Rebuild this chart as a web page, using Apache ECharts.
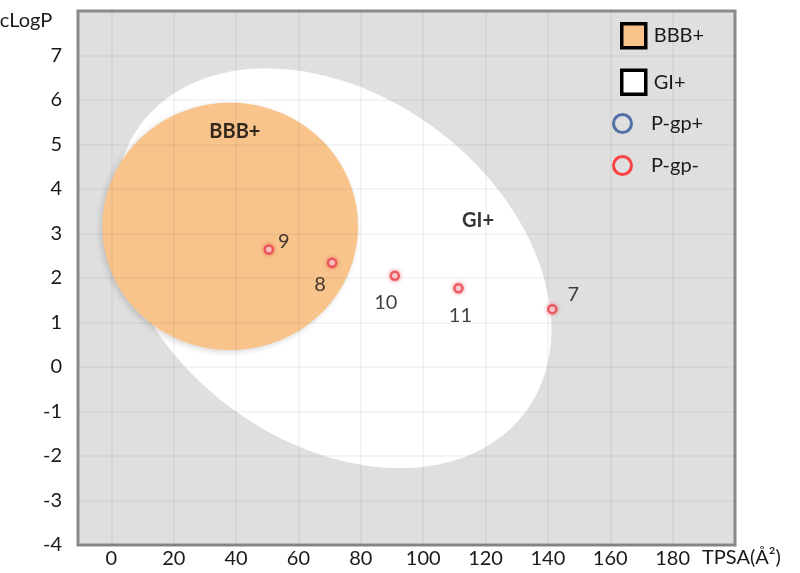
<!DOCTYPE html>
<html>
<head>
<meta charset="utf-8">
<title>BOILED-Egg</title>
<script src="https://cdn.jsdelivr.net/npm/echarts@6/dist/echarts.min.js"></script>
<style>
  html, body { margin: 0; padding: 0; background: #fff; }
  #chart { width: 800px; height: 573px; }
</style>
</head>
<body>
<div id="chart"></div>
<script>
// compounds (TPSA, cLogP)
var compoundIds = ['7', '8', '9', '10', '11'];
var tpsa = [141.4, 70.8, 50.5, 90.9, 111.3];
var clogp = [1.30, 2.34, 2.64, 2.05, 1.77];
var pgpPositive = []; // no P-gp substrates

// axis ticks
var xTicks = [0, 20, 40, 60, 80, 100, 120, 140, 160, 180];
var yTicks = [-4, -3, -2, -1, 0, 1, 2, 3, 4, 5, 6, 7];

// egg regions: centre and two conjugate semi-axes, in data units
var giCentre = [71.1, 2.22];
var giAxisA = [61.5, -3.25];
var giAxisB = [-33.5, -3.10];
var bbbCentre = [38.1, 3.16];
var bbbAxisA = [41.0, 0];
var bbbAxisB = [0, 2.78];

// region captions
var regionNames = ['BBB+', 'GI+'];
var regionX = [39.6, 117.6];
var regionY = [5.30, 3.30];

var FONT = 'Lato, "Open Sans", sans-serif';

// label offsets (px) for each compound number
var labelShift = { '7': [21, -15], '8': [-12, 22], '9': [15, -8], '10': [-9, 27], '11': [2, 27] };

function ellipseRender(centre, a, b, style) {
    return function (params, api) {
        var pts = [];
        for (var k = 0; k < 120; k++) {
            var t = 2 * Math.PI * k / 120;
            pts.push(api.coord([
                centre[0] + a[0] * Math.cos(t) + b[0] * Math.sin(t),
                centre[1] + a[1] * Math.cos(t) + b[1] * Math.sin(t)
            ]));
        }
        return { type: 'polygon', shape: { points: pts }, style: style };
    };
}

var pointData = [];
for (var i = 0; i < compoundIds.length; i++) {
    pointData.push({
        value: [tpsa[i], clogp[i]],
        name: compoundIds[i],
        label: { offset: labelShift[compoundIds[i]] }
    });
}

var captionData = [];
for (var j = 0; j < regionNames.length; j++) {
    captionData.push({ value: [regionX[j], regionY[j]], name: regionNames[j] });
}

var chart = echarts.init(document.getElementById('chart'));
var option = {
    animation: false,
    backgroundColor: '#fff',
    textStyle: { fontFamily: FONT },
    grid: {
        left: 78, right: 65, top: 11, bottom: 28,
        show: true,
        backgroundColor: '#dfdfdf',
        borderColor: '#8a8a8a',
        borderWidth: 3,
        outerBoundsMode: 'none'
    },
    legend: [{
        selectedMode: false,
        orient: 'vertical',
        left: 620, top: 22,
        padding: 0,
        itemWidth: 24, itemHeight: 24, itemGap: 19,
        textStyle: { fontSize: 20, color: '#1a1a1a', fontFamily: FONT, padding: [0, 0, 0, 3] },
        data: [
            { name: 'BBB+', icon: 'rect', itemStyle: { color: '#f8c48c', borderColor: '#000', borderWidth: 3.5 } },
            { name: 'GI+', icon: 'rect', itemStyle: { color: '#fff', borderColor: '#000', borderWidth: 3.5 } }
        ]
    }, {
        selectedMode: false,
        orient: 'vertical',
        left: 612, top: 113,
        padding: 0,
        itemWidth: 33, itemHeight: 18, itemGap: 21,
        textStyle: { fontSize: 20, color: '#1a1a1a', fontFamily: FONT, padding: [0, 0, 0, 7] },
        data: [
            { name: 'P-gp+', icon: 'circle', itemStyle: { color: 'transparent', borderColor: '#2f5597', borderWidth: 3 } },
            { name: 'P-gp-', icon: 'circle', itemStyle: { color: 'transparent', borderColor: '#ff1a1a', borderWidth: 3 } }
        ]
    }],
    xAxis: {
        type: 'value',
        min: -10.7, max: 200,
        z: 2,
        name: 'TPSA(Å²)',
        nameLocation: 'end',
        nameGap: -33,
        nameTextStyle: { fontSize: 20, color: '#1a1a1a', fontFamily: FONT, verticalAlign: 'top', padding: [3, 0, 0, 0] },
        axisLine: { show: false, onZero: false },
        axisTick: { show: false, customValues: xTicks },
        axisLabel: { customValues: xTicks, fontSize: 20, color: '#1a1a1a', margin: 4, fontFamily: FONT },
        splitLine: { show: true, lineStyle: { color: 'rgba(0,0,0,0.055)', width: 1.5 } }
    },
    yAxis: {
        type: 'value',
        min: -4, max: 8,
        z: 2,
        name: 'cLogP',
        nameLocation: 'end',
        nameGap: -10,
        nameTextStyle: { fontSize: 20, color: '#1a1a1a', fontFamily: FONT, verticalAlign: 'middle', padding: [0, 104, 0, 0] },
        axisLine: { show: false, onZero: false },
        axisTick: { show: false, customValues: yTicks },
        axisLabel: { customValues: yTicks, fontSize: 20, color: '#1a1a1a', margin: 16, fontFamily: FONT },
        splitLine: { show: true, lineStyle: { color: 'rgba(0,0,0,0.055)', width: 1.5 } }
    },
    series: [{
        name: 'GI+',
        type: 'custom',
        z: 1,
        silent: true,
        itemStyle: { color: '#fff' },
        renderItem: ellipseRender(giCentre, giAxisA, giAxisB, { fill: '#fff' }),
        data: [giCentre]
    }, {
        name: 'BBB+',
        type: 'custom',
        z: 1,
        silent: true,
        itemStyle: { color: '#f8c48c' },
        renderItem: ellipseRender(bbbCentre, bbbAxisA, bbbAxisB, {
            fill: '#f8c48c',
            shadowBlur: 6, shadowColor: 'rgba(0,0,0,0.15)', shadowOffsetX: -2, shadowOffsetY: 2
        }),
        data: [bbbCentre]
    }, {
        name: 'captions',
        type: 'scatter',
        z: 3,
        silent: true,
        symbolSize: 0,
        label: {
            show: true, position: 'inside', formatter: '{b}',
            fontSize: 20, fontWeight: 'bold', color: '#000', fontFamily: FONT
        },
        data: captionData
    }, {
        name: 'P-gp+',
        type: 'scatter',
        z: 4,
        symbolSize: 8,
        itemStyle: { color: '#fff', borderColor: '#2f5597', borderWidth: 2.5 },
        data: pgpPositive
    }, {
        name: 'P-gp-',
        type: 'scatter',
        z: 4,
        symbolSize: 8,
        itemStyle: {
            color: '#fff', borderColor: '#e8404a', borderWidth: 2.5,
            shadowBlur: 4, shadowColor: 'rgba(230,50,60,0.6)'
        },
        label: {
            show: true, position: 'inside', formatter: '{b}',
            fontSize: 20, color: '#111', fontFamily: FONT
        },
        data: pointData
    }]
};
chart.setOption(option);
window.onresize = function () { chart.resize(); };
</script>
</body>
</html>
